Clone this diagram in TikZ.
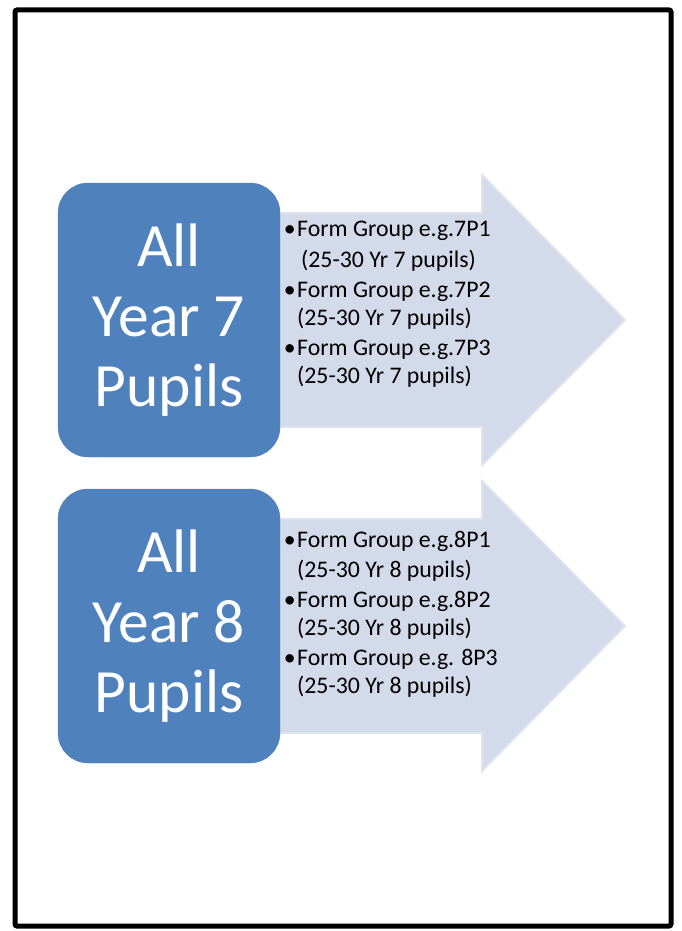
\documentclass[tikz,border=0pt]{standalone}
\usepackage{fontspec}
\setmainfont{Carlito}
\definecolor{yearblue}{HTML}{4F81BD}
\definecolor{arrowfill}{HTML}{D3DAEA}
\definecolor{arrowedge}{HTML}{DDE3EF}
\newcommand{\formbullet}{\llap{•\hspace{1.5pt}}}
\begin{document}
\begin{tikzpicture}[x=1pt, y=-1pt,
  yearbox/.style = {draw=yearblue, fill=yearblue, rounded corners=30pt,
    minimum width=222pt, minimum height=274pt, align=center,
    text=white, font=\fontsize{61.5}{70}\selectfont},
  formarrow/.style = {fill=arrowfill, draw=arrowedge, line width=2pt},
  formtext/.style = {anchor=north west, inner sep=0pt, align=left,
    font=\fontsize{23.8}{28}\selectfont}]
\useasboundingbox (0,0) rectangle (681,931);
\draw[line width=5pt, rounded corners=2pt] (15,10) rectangle (671,926);
% year 7
\draw[formarrow] (280,213) -- (482,213) -- (482,175) -- (625,320)
  -- (482,465) -- (482,427) -- (280,427) -- cycle;
\node[yearbox] (y7) at (169,320) {All\\Year 7\\Pupils};
\node[formtext] (f7) at (297,221) {\formbullet Form Group e.g.7P1\\[3pt]
  \hspace{4pt}(25-30 Yr 7 pupils)\\[2pt]
  \formbullet Form Group e.g.7P2\\
  (25-30 Yr 7 pupils)\\[2pt]
  \formbullet Form Group e.g.7P3\\
  (25-30 Yr 7 pupils)};
% year 8
\draw[formarrow] (280,519) -- (482,519) -- (482,481) -- (625,626)
  -- (482,771) -- (482,733) -- (280,733) -- cycle;
\node[yearbox] (y8) at (169,626) {All\\Year 8\\Pupils};
\node[formtext] (f8) at (297,531) {\formbullet Form Group e.g.8P1\\[2pt]
  (25-30 Yr 8 pupils)\\[2pt]
  \formbullet Form Group e.g.8P2\\
  (25-30 Yr 8 pupils)\\[2pt]
  \formbullet Form Group e.g. 8P3\\
  (25-30 Yr 8 pupils)};
\end{tikzpicture}
\end{document}
